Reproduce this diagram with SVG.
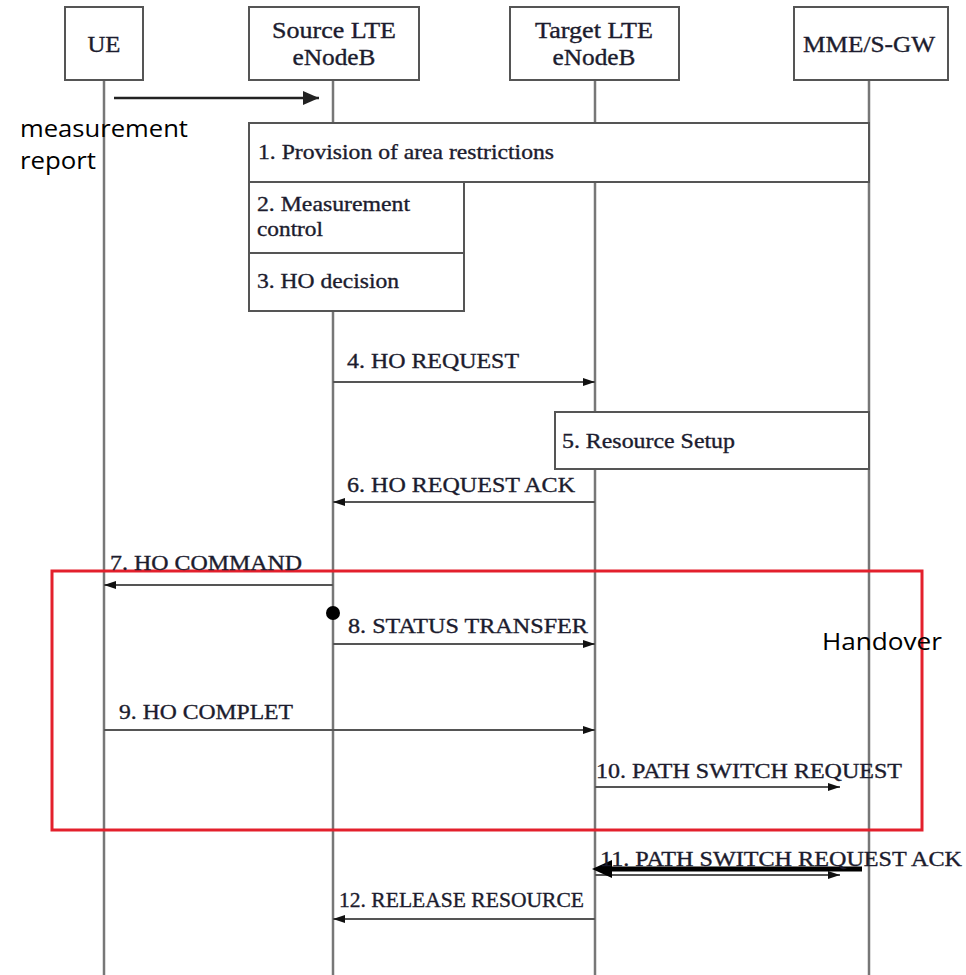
<svg xmlns="http://www.w3.org/2000/svg" width="966" height="975" viewBox="0 0 966 975">
<style>
.bg{fill:#fff}
.box{fill:#fff;stroke:#555;stroke-width:2}
.life{stroke:#777;stroke-width:2.5;fill:none}
.msg{stroke:#555;stroke-width:2;fill:none}
.t{font-family:"Liberation Serif","Times New Roman",serif;font-size:21px;fill:#1c1c2e;stroke:#1c1c2e;stroke-width:0.35}
.h{font-family:"Liberation Serif","Times New Roman",serif;font-size:23px;fill:#1c1c2e;stroke:#1c1c2e;stroke-width:0.35}
.s{font-family:"Open Sans","Noto Sans","Liberation Sans",sans-serif;font-size:24px;fill:#000}
</style>
<defs>
<marker id="ah" viewBox="0 0 12 8" refX="12" refY="4" markerWidth="12" markerHeight="8" markerUnits="userSpaceOnUse" orient="auto">
<path d="M0,0 L12,4 L0,8 z" fill="#111"/>
</marker>
<marker id="ahb" viewBox="0 0 16 14" refX="16" refY="7" markerWidth="16" markerHeight="14" markerUnits="userSpaceOnUse" orient="auto">
<path d="M0,0 L16,7 L0,14 z" fill="#222"/>
</marker>
<marker id="ahk" viewBox="0 0 20 18" refX="2" refY="9" markerWidth="20" markerHeight="18" markerUnits="userSpaceOnUse" orient="auto">
<path d="M0,0 L20,9 L0,18 z" fill="#000"/>
</marker>
</defs>
<rect class="bg" x="0" y="0" width="966" height="975"/>

<g id="lifelines">
<line class="life" x1="104" y1="80" x2="104" y2="975"/>
<line class="life" x1="333" y1="80" x2="333" y2="975"/>
<line class="life" x1="595" y1="80" x2="595" y2="975"/>
<line class="life" x1="869" y1="80" x2="869" y2="975"/>
</g>

<g id="ue">
<rect class="box" x="65" y="7" width="78" height="73"/>
<text class="h" x="104" y="52" text-anchor="middle" textLength="33" lengthAdjust="spacingAndGlyphs">UE</text>
</g>
<g id="source">
<rect class="box" x="249" y="7" width="170" height="73"/>
<text class="h" x="334" y="38" text-anchor="middle" textLength="124" lengthAdjust="spacingAndGlyphs">Source LTE</text>
<text class="h" x="334" y="65" text-anchor="middle" textLength="83" lengthAdjust="spacingAndGlyphs">eNodeB</text>
</g>
<g id="target">
<rect class="box" x="510" y="7" width="169" height="73"/>
<text class="h" x="594" y="38" text-anchor="middle" textLength="118" lengthAdjust="spacingAndGlyphs">Target LTE</text>
<text class="h" x="594" y="65" text-anchor="middle" textLength="83" lengthAdjust="spacingAndGlyphs">eNodeB</text>
</g>
<g id="mme">
<rect class="box" x="794" y="7" width="154" height="73"/>
<text class="h" x="869" y="52" text-anchor="middle" textLength="132" lengthAdjust="spacingAndGlyphs">MME/S-GW</text>
</g>

<g id="step1">
<rect class="box" x="249" y="123" width="620" height="59"/>
<text class="t" x="258" y="159" textLength="296" lengthAdjust="spacingAndGlyphs">1. Provision of area restrictions</text>
</g>
<g id="step2">
<rect class="box" x="249" y="182" width="215" height="71"/>
<text class="t" x="257" y="211" textLength="153" lengthAdjust="spacingAndGlyphs">2. Measurement</text>
<text class="t" x="257" y="236" textLength="66" lengthAdjust="spacingAndGlyphs">control</text>
</g>
<g id="step3">
<rect class="box" x="249" y="253" width="215" height="58"/>
<text class="t" x="257" y="288" textLength="142" lengthAdjust="spacingAndGlyphs">3. HO decision</text>
</g>
<g id="step5">
<rect class="box" x="555" y="412" width="314" height="57"/>
<text class="t" x="562" y="448" textLength="173" lengthAdjust="spacingAndGlyphs">5. Resource Setup</text>
</g>

<g id="handover-frame">
<rect x="52" y="571" width="870" height="259" fill="none" stroke="#e3202c" stroke-width="3"/>
<text class="s" x="822" y="650" textLength="120" lengthAdjust="spacingAndGlyphs">Handover</text>
</g>

<g id="connectors">
<line x1="114" y1="98" x2="319" y2="98" stroke="#222" stroke-width="2.5" marker-end="url(#ahb)"/>
<line class="msg" x1="333" y1="382" x2="595" y2="382" marker-end="url(#ah)"/>
<line class="msg" x1="595" y1="502" x2="333" y2="502" marker-end="url(#ah)"/>
<line class="msg" x1="333" y1="585" x2="104" y2="585" marker-end="url(#ah)"/>
<circle cx="333" cy="613" r="7" fill="#000"/>
<line class="msg" x1="333" y1="644" x2="595" y2="644" marker-end="url(#ah)"/>
<line class="msg" x1="104" y1="730" x2="595" y2="730" marker-end="url(#ah)"/>
<line class="msg" x1="595" y1="787" x2="840" y2="787" marker-end="url(#ah)"/>
<line class="msg" x1="595" y1="875" x2="840" y2="875" marker-end="url(#ah)"/>
<line x1="862" y1="869" x2="610" y2="869" stroke="#000" stroke-width="5" marker-end="url(#ahk)"/>
<line class="msg" x1="595" y1="919" x2="333" y2="919" marker-end="url(#ah)"/>
</g>

<g id="labels">
<text class="s" x="20" y="137" textLength="168" lengthAdjust="spacingAndGlyphs">measurement</text>
<text class="s" x="20" y="169" textLength="76" lengthAdjust="spacingAndGlyphs">report</text>
<text class="t" x="347" y="368" textLength="172" lengthAdjust="spacingAndGlyphs">4. HO REQUEST</text>
<text class="t" x="347" y="492" textLength="228" lengthAdjust="spacingAndGlyphs">6. HO REQUEST ACK</text>
<text class="t" x="110" y="570" textLength="192" lengthAdjust="spacingAndGlyphs">7. HO COMMAND</text>
<text class="t" x="348" y="633" textLength="240" lengthAdjust="spacingAndGlyphs">8. STATUS TRANSFER</text>
<text class="t" x="119" y="719" textLength="174" lengthAdjust="spacingAndGlyphs">9. HO COMPLET</text>
<text class="t" x="596" y="778" textLength="306" lengthAdjust="spacingAndGlyphs">10. PATH SWITCH REQUEST</text>
<text class="t" x="600" y="866" textLength="362" lengthAdjust="spacingAndGlyphs">11. PATH SWITCH REQUEST ACK</text>
<text class="t" x="339" y="907" textLength="245" lengthAdjust="spacingAndGlyphs">12. RELEASE RESOURCE</text>
</g>
</svg>
